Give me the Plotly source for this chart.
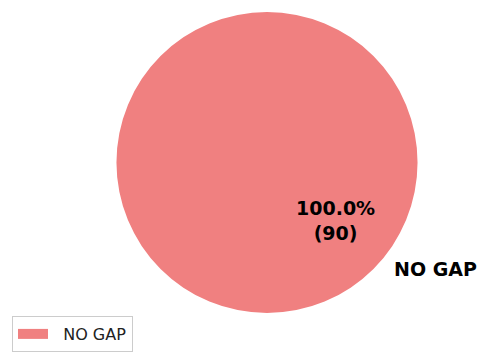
import plotly.graph_objects as go

labels = ["NO GAP"]
values = [90]
colors = ["#F08080"]

W, H = 480, 352
cx, cy, r = 267, 162.5, 150.5  # pie domain centre / half-size in pixels

total = sum(values)
pct_texts = [f"<b>{v / total * 100:.1f}%<br>({v})</b>" for v in values]

fig = go.Figure(go.Pie(
    labels=labels, values=values, marker=dict(colors=colors, line=dict(width=0)),
    textinfo="none", sort=False, hoverinfo="skip", showlegend=False,
    domain=dict(x=[(cx - r) / W, (cx + r) / W], y=[1 - (cy + r) / H, 1 - (cy - r) / H]),
))
# legend entry with a wide swatch, as in the reference
fig.add_trace(go.Scatter(x=[None], y=[None], mode="lines", name="\u00a0\u00a0" + labels[0],
                         line=dict(color=colors[0], width=10), hoverinfo="skip"))

fig.add_annotation(x=335 / W, y=1 - 220 / H, xref="paper", yref="paper",
                   xanchor="center", yanchor="middle",
                   text=pct_texts[0], showarrow=False, align="center",
                   font=dict(family="DejaVu Sans", size=19, color="black"))
fig.add_annotation(x=392 / W, y=1 - 269 / H, xref="paper", yref="paper",
                   text=f"<b>{labels[0]}</b>", showarrow=False,
                   xanchor="left", yanchor="middle",
                   font=dict(family="DejaVu Sans", size=19, color="black"))

fig.update_layout(
    width=W, height=H, margin=dict(l=0, r=0, t=0, b=0),
    paper_bgcolor="white", plot_bgcolor="white",
    xaxis=dict(visible=False), yaxis=dict(visible=False),
    legend=dict(x=12 / W, y=0, xanchor="left", yanchor="bottom",
                bordercolor="#cccccc", borderwidth=1, bgcolor="white",
                font=dict(family="DejaVu Sans", size=16, color="#222222")),
    showlegend=True,
)
fig.write_html("out.html")
